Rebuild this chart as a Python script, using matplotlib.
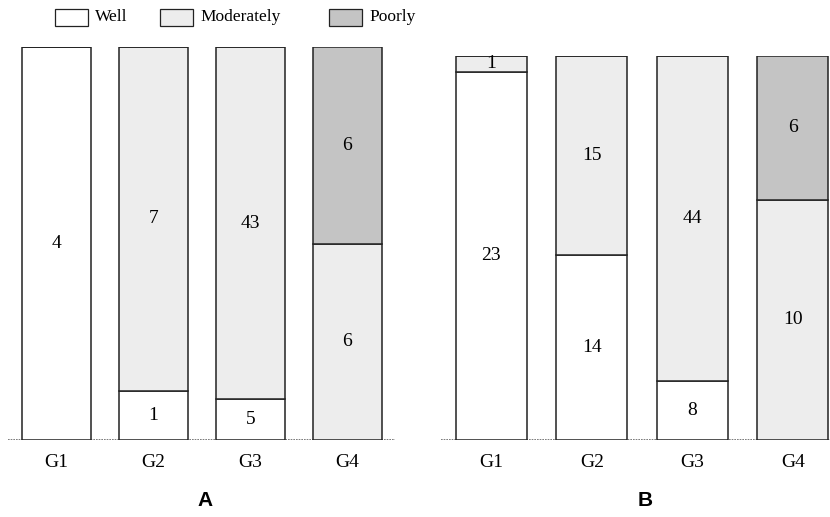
import matplotlib
matplotlib.use("Agg")
import matplotlib.pyplot as plt
import numpy as np

groups = ["G1", "G2", "G3", "G4"]
categories = ["Well", "Moderately", "Poorly"]
# counts per category for each group
panel_a = {"Well": [4, 1, 5, 0], "Moderately": [0, 7, 43, 6], "Poorly": [0, 0, 0, 6]}
panel_b = {"Well": [23, 14, 8, 0], "Moderately": [1, 15, 44, 10], "Poorly": [0, 0, 0, 6]}
panel_labels = ["A", "B"]

colors = {"Well": "#ffffff", "Moderately": "#ededed", "Poorly": "#c4c4c4"}
serif = "Liberation Serif"

W, H = 830, 517
fig = plt.figure(figsize=(W / 100, H / 100), dpi=100)

def ax_rect(l, r, b, t):
    return [l / W, 1 - b / H, (r - l) / W, (b - t) / H]

axA = fig.add_axes(ax_rect(8, 395, 440, 47))
axB = fig.add_axes(ax_rect(441, 830, 440, 56))

def draw(ax, data, xlim_right):
    x = np.arange(len(groups))
    totals = np.sum([data[c] for c in categories], axis=0)
    bottom = np.zeros(len(groups))
    for c in categories:
        vals = np.array(data[c], dtype=float)
        frac = vals / totals
        ax.bar(x, frac, bottom=bottom, width=0.71, color=colors[c],
               edgecolor="#222222", linewidth=1.1, zorder=2)
        for i, (v, f) in enumerate(zip(vals, frac)):
            if v > 0:
                ax.text(x[i], bottom[i] + f / 2, f"{int(v)}", ha="center",
                        va="center", fontsize=14, family=serif, zorder=3)
        bottom += frac
    ax.set_xlim(-0.5, xlim_right)
    ax.set_ylim(0, 1)
    for s in ax.spines.values():
        s.set_visible(False)
    ax.axhline(0, color="#666666", linewidth=1.2, linestyle=(0, (1, 0.6)), zorder=1)
    ax.set_yticks([])
    ax.set_xticks(x)
    ax.set_xticklabels(groups, family=serif, fontsize=14)
    ax.tick_params(axis="x", length=0, pad=10)

draw(axA, panel_a, 3.49)
draw(axB, panel_b, 3.37)

fig.text(205 / W, 1 - 501 / H, panel_labels[0], ha="center", va="center",
         fontsize=15, fontweight="bold", family="Liberation Sans")
fig.text(645 / W, 1 - 501 / H, panel_labels[1], ha="center", va="center",
         fontsize=15, fontweight="bold", family="Liberation Sans")

# legend
leg_x = [55, 160, 329]
for c, lx in zip(categories, leg_x):
    r = plt.Rectangle((lx / W, 1 - 26 / H), 33 / W, 17 / H, transform=fig.transFigure,
                      facecolor=colors[c], edgecolor="#222222", linewidth=0.9)
    fig.add_artist(r)
    fig.text((lx + 40) / W, 1 - 17 / H, c, ha="left", va="center",
             fontsize=12.5, family=serif)

fig.savefig("out.png", dpi=100)
